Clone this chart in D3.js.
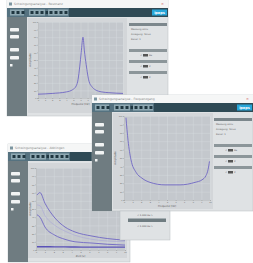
<!DOCTYPE html>
<html>
<head>
<meta charset="utf-8">
<script src="https://cdn.jsdelivr.net/npm/d3@7"></script>
<style>
  body { margin: 0; background: #ffffff; }
  svg { display: block; font-family: "DejaVu Sans", sans-serif; }
</style>
</head>
<body>
<script>
// ---- data ----
// window 1 : resonance peak
var peakFreq = [0, 2, 4, 4.9, 5.4, 5.65, 5.9, 6.1, 6.35, 6.55, 6.8, 7.2, 7.6, 8.05, 9, 10, 12];
var peakAmp  = [5, 6, 8, 11, 16, 24, 42, 60, 80, 62, 44, 22, 15, 11, 8, 7, 6];

// window 2 : bath-tub curve
var uFreq = [0.23, 0.47, 0.81, 1.4, 2.09, 3.02, 4.77, 6.51, 8.26, 9.07, 9.53, 9.77, 9.94];
var uAmp  = [98, 71, 48, 33, 26, 21, 18, 18, 21, 24, 29, 36, 46];

// window 3 : decay curves
var decayTime = [0.11, 0.45, 1.01, 2.13, 3.26, 4.38, 6.29, 8, 10];
var decayA = [67, 70, 57, 39, 28, 22, 17, 14, 12];
var decayD = [55, 54, 42, 30, 23, 18, 13, 11, 10];
var decayB = [43, 40, 28, 18, 13, 10, 8.5, 7, 6];
var decayC = [4, 4, 4, 3.8, 3.8, 3.6, 3.5, 3.5, 3.5];

var panelLabels = ["Messung aktiv", "Anregung: Sinus", "Kanal: 1"];
var panelValues = ["1.000 Hz", "1.000 V", "1.000 V"];

var W = 253, H = 263;
var svg = d3.select("body").append("svg")
    .attr("width", W)
    .attr("height", H);

function drawWindow(win) {
    var g = svg.append("g");

    // body
    g.append("rect")
        .attr("x", win.x).attr("y", win.y)
        .attr("width", win.w).attr("height", win.h)
        .attr("fill", "#dfe2e4")
        .attr("stroke", "#b9bec1").attr("stroke-width", 0.5);

    // title bar
    g.append("rect")
        .attr("x", win.x).attr("y", win.y)
        .attr("width", win.w).attr("height", 8)
        .attr("fill", "#f5f6f6");
    g.append("rect")
        .attr("x", win.x + 2).attr("y", win.y + 2.5)
        .attr("width", 3).attr("height", 3)
        .attr("fill", "#7c95a0");
    g.append("text")
        .attr("x", win.x + 7).attr("y", win.y + 5.2)
        .attr("font-size", "3px").attr("fill", "#8a8a8a")
        .text(win.title);
    g.append("text")
        .attr("x", win.x + win.w - 7).attr("y", win.y + 5.4)
        .attr("font-size", "3.5px").attr("fill", "#c44")
        .text("×");

    // toolbar
    var ty = win.y + 8;
    g.append("rect")
        .attr("x", win.x).attr("y", ty)
        .attr("width", win.w).attr("height", 9)
        .attr("fill", "#2f4a55");
    g.append("rect")
        .attr("x", win.x).attr("y", ty)
        .attr("width", 62).attr("height", 9)
        .attr("fill", "#557280");
    [[3, 14], [22, 16], [41, 20]].forEach(function(b) {
        g.append("rect")
            .attr("x", win.x + b[0]).attr("y", ty + 1.5)
            .attr("width", b[1]).attr("height", 6)
            .attr("fill", "#8fa9b3");
        for (var i = 0; i < b[1] / 5; i++) {
            g.append("rect")
                .attr("x", win.x + b[0] + 1.5 + i * 5).attr("y", ty + 3)
                .attr("width", 3).attr("height", 3)
                .attr("fill", "#1f3640");
        }
    });
    // logo
    g.append("rect")
        .attr("x", win.x + win.w - 16).attr("y", ty + 1.5)
        .attr("width", 15).attr("height", 6)
        .attr("fill", "#27a6d9");
    g.append("text")
        .attr("x", win.x + win.w - 8.5).attr("y", ty + 5.6)
        .attr("text-anchor", "middle")
        .attr("font-size", "3.5px").attr("font-weight", "bold")
        .attr("fill", "#ffffff")
        .text("ipeps");

    // side bar
    var sy = ty + 9;
    g.append("rect")
        .attr("x", win.x).attr("y", sy)
        .attr("width", 20).attr("height", win.sideH)
        .attr("fill", "#6f7c81");
    [11, 18, 31, 39].forEach(function(dy) {
        g.append("rect")
            .attr("x", win.x + 3).attr("y", sy + dy)
            .attr("width", 9).attr("height", 3.5)
            .attr("rx", 0.8)
            .attr("fill", "#f2f4f4");
    });
    g.append("rect")
        .attr("x", win.x + 3).attr("y", sy + 47)
        .attr("width", 2.5).attr("height", 2.5)
        .attr("fill", "#f2f4f4");

    // right panel
    if (win.panel) {
        var px = win.x + win.w - 40;
        g.append("rect")
            .attr("x", px + 1).attr("y", sy + 6)
            .attr("width", 38).attr("height", 3)
            .attr("fill", "#7c878c");
        panelLabels.forEach(function(t, i) {
            g.append("text")
                .attr("x", px + 3).attr("y", sy + 13 + i * 5)
                .attr("font-size", "2.4px").attr("fill", "#666")
                .text(t);
        });
        panelValues.forEach(function(t, i) {
            var by = sy + 32 + i * 11;
            g.append("rect")
                .attr("x", px + 1).attr("y", by)
                .attr("width", 38).attr("height", 3)
                .attr("fill", "#8c969a");
            g.append("rect")
                .attr("x", px + 15).attr("y", by + 5)
                .attr("width", 5).attr("height", 2.5)
                .attr("fill", "#555");
            g.append("text")
                .attr("x", px + 21).attr("y", by + 7.2)
                .attr("font-size", "2.4px").attr("fill", "#555")
                .text(t.split(" ")[1]);
            g.append("text")
                .attr("x", px + 12).attr("y", by + 7.2)
                .attr("font-size", "2.4px").attr("fill", "#555")
                .text("<");
        });
    }
    return g;
}

function drawChart(g, c) {
    // chart panel
    g.append("rect")
        .attr("x", c.px).attr("y", c.py)
        .attr("width", c.pw).attr("height", c.ph)
        .attr("fill", "#d3d6d9");

    var x = d3.scaleLinear().domain(c.xDomain).range([c.left, c.right]);
    var y = d3.scaleLinear().domain([0, 100]).range([c.bottom, c.top]);

    g.append("rect")
        .attr("x", c.left).attr("y", c.top)
        .attr("width", c.right - c.left).attr("height", c.bottom - c.top)
        .attr("fill", "#c4c8cd");

    // grid
    g.append("g")
        .attr("transform", "translate(0," + c.bottom + ")")
        .call(d3.axisBottom(x).ticks(12).tickSize(-(c.bottom - c.top)).tickFormat(""))
        .call(function(a) { a.select(".domain").remove(); })
        .selectAll("line").attr("stroke", "#dadde0").attr("stroke-width", 0.4);
    g.append("g")
        .attr("transform", "translate(" + c.left + ",0)")
        .call(d3.axisLeft(y).ticks(14).tickSize(-(c.right - c.left)).tickFormat(""))
        .call(function(a) { a.select(".domain").remove(); })
        .selectAll("line").attr("stroke", "#dadde0").attr("stroke-width", 0.4);

    // axes
    var xAxisGroup = g.append("g")
        .attr("transform", "translate(0," + c.bottom + ")")
        .call(d3.axisBottom(x).ticks(12).tickSize(1).tickPadding(0.5));
    var yAxisGroup = g.append("g")
        .attr("transform", "translate(" + c.left + ",0)")
        .call(d3.axisLeft(y).ticks(14).tickSize(1).tickPadding(0.5));
    [xAxisGroup, yAxisGroup].forEach(function(a) {
        a.selectAll("text").attr("font-size", "2.2px").attr("fill", "#666");
        a.selectAll("line").attr("stroke", "#777").attr("stroke-width", 0.3);
        a.select(".domain").attr("stroke", "#999").attr("stroke-width", 0.3);
    });

    g.append("text")
        .attr("x", (c.left + c.right) / 2).attr("y", c.bottom + 7)
        .attr("text-anchor", "middle")
        .attr("font-size", "2.6px").attr("fill", "#555")
        .text(c.xLabel);
    g.append("text")
        .attr("transform", "translate(" + (c.px + 3) + "," + ((c.top + c.bottom) / 2) + ") rotate(-90)")
        .attr("text-anchor", "middle")
        .attr("font-size", "2.6px").attr("fill", "#555")
        .text(c.yLabel);

    var line = d3.line()
        .x(function(d) { return x(d[0]); })
        .y(function(d) { return y(d[1]); })
        .curve(d3.curveMonotoneX);

    c.series.forEach(function(s) {
        var pts = s.xs.map(function(v, i) { return [v, s.ys[i]]; });
        g.append("path")
            .datum(pts)
            .attr("d", line)
            .attr("fill", "none")
            .attr("stroke", s.color)
            .attr("stroke-width", s.width);
    });
}

// texts that end up under a window drawn later cannot be seen anyway
function dropCovered(g, covers) {
    g.selectAll("text").each(function() {
        var b = this.getBoundingClientRect();
        var hit = covers.some(function(r) {
            return b.right > r[0] && b.left < r[0] + r[2] && b.bottom > r[1] && b.top < r[1] + r[3];
        });
        if (hit) d3.select(this).remove();
    });
}

// window 1 (top left)
var w1 = drawWindow({x: 7, y: 0, w: 161, h: 116, sideH: 99, panel: true,
    title: "Schwingungsanalyse - Resonanz"});
drawChart(w1, {px: 28, py: 18, pw: 99, ph: 95,
    left: 38, right: 123, top: 22, bottom: 98,
    xDomain: [0, 12], xLabel: "Frequenz [Hz]", yLabel: "Amplitude",
    series: [{xs: peakFreq, ys: peakAmp, color: "#6f67c4", width: 0.9}]});

// window 3 (bottom left)
var w3 = drawWindow({x: 8, y: 144, w: 122, h: 118, sideH: 101, panel: false,
    title: "Schwingungsanalyse - Abklingen"});
drawChart(w3, {px: 28, py: 163, pw: 99, ph: 95,
    left: 36, right: 125, top: 168, bottom: 250,
    xDomain: [0, 10], xLabel: "Zeit [s]", yLabel: "Amplitude",
    series: [
        {xs: decayTime, ys: decayD, color: "#a9a6d8", width: 0.6},
        {xs: decayTime, ys: decayA, color: "#6f67c4", width: 0.9},
        {xs: decayTime, ys: decayB, color: "#6f67c4", width: 0.9},
        {xs: decayTime, ys: decayC, color: "#5a52b8", width: 1.4}]});

dropCovered(w1, [[92, 95, 161, 116], [8, 144, 122, 118]]);
dropCovered(w3, [[92, 95, 161, 116], [120, 211, 50, 29]]);

// window 2 (right, on top)
var w2 = drawWindow({x: 92, y: 95, w: 161, h: 116, sideH: 99, panel: true,
    title: "Schwingungsanalyse - Frequenzgang"});
drawChart(w2, {px: 113, py: 113, pw: 100, ph: 96,
    left: 124, right: 210, top: 116, bottom: 200,
    xDomain: [0, 10], xLabel: "Frequenz [Hz]", yLabel: "Amplitude",
    series: [{xs: uFreq, ys: uAmp, color: "#6f67c4", width: 0.9}]});

// window 2 lower value box
var lower = svg.append("g");
lower.append("rect")
    .attr("x", 120).attr("y", 211)
    .attr("width", 50).attr("height", 29)
    .attr("fill", "#dfe2e4")
    .attr("stroke", "#b9bec1").attr("stroke-width", 0.5);
["1.000 Hz", "1.000 Hz"].forEach(function(t, i) {
    lower.append("text")
        .attr("x", 145).attr("y", 216 + i * 11)
        .attr("text-anchor", "middle")
        .attr("font-size", "2.4px").attr("fill", "#555")
        .text("< " + t + " >");
});
lower.append("rect")
    .attr("x", 128).attr("y", 218.5)
    .attr("width", 38).attr("height", 3.5)
    .attr("fill", "#6f7c81");
</script>
</body>
</html>
